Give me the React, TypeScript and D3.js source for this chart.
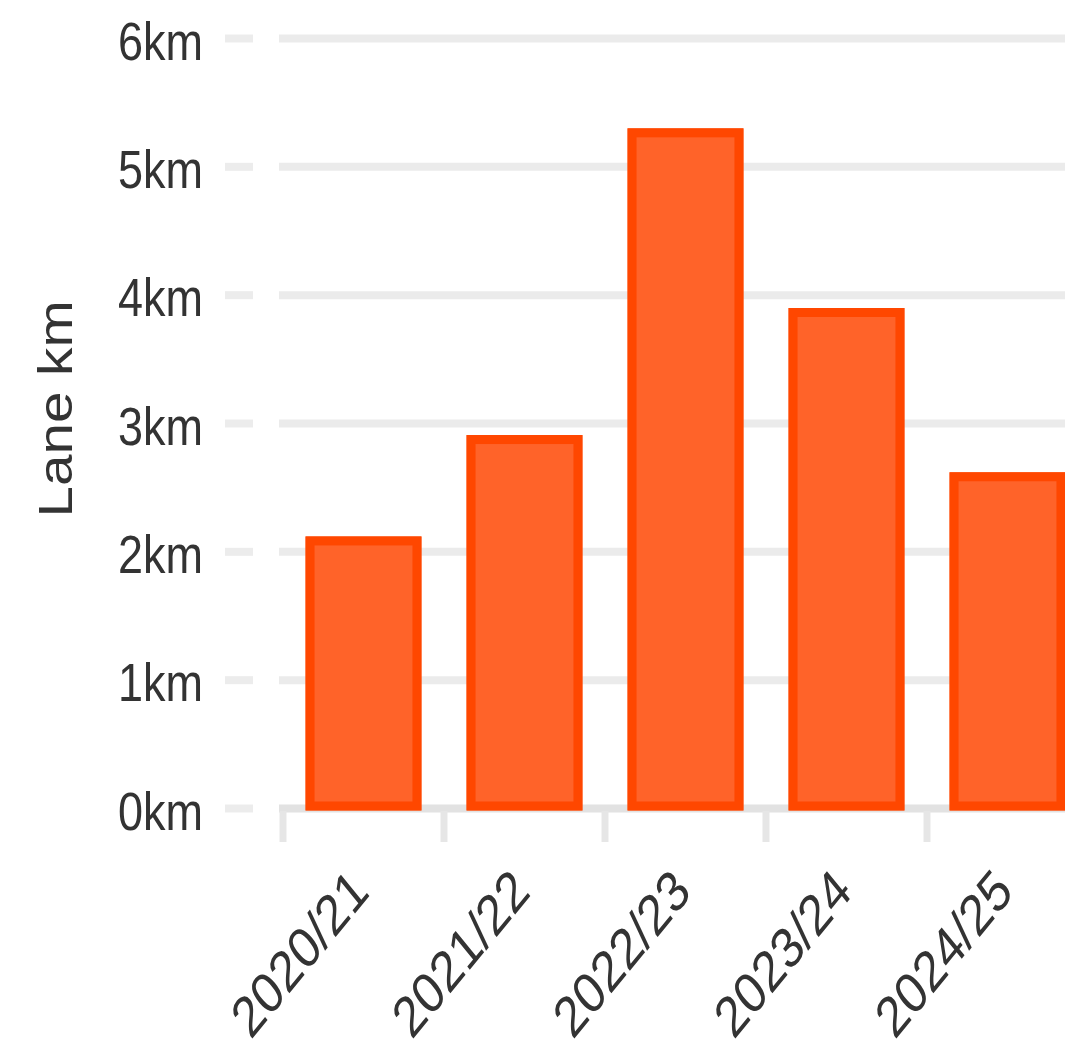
import React from 'react';
import * as d3 from 'd3';

const seasons: string[] = ['2020/21', '2021/22', '2022/23', '2023/24', '2024/25'];
const laneKm: number[] = [2.12, 2.91, 5.3, 3.9, 2.62];
const yTicks: number[] = [0, 1, 2, 3, 4, 5, 6];
const yTitle = 'Lane km';

const W = 1065;
const H = 1040;
const stretch = 1.18; // the picture is taller than it is wide
const font = '"Liberation Sans", Arial, sans-serif';

const App: React.FC = () => {
  const x = d3.scaleBand<string>()
    .domain(seasons)
    .range([283, 1088])
    .paddingInner(0.28)
    .paddingOuter(0.14);

  const y = d3.scaleLinear()
    .domain([0, 6])
    .range([808.5, 38.5]);

  const step = x.step();
  const bw = x.bandwidth();
  const border = 9;
  const boundaries = seasons.map(s => (x(s) as number) - step * 0.14);

  return (
    <svg width={W} height={H} style={{ position: 'absolute', left: 0, top: 0 }}>
      <rect width={W} height={H} fill="#fff" />

      {/* y grid + tick marks */}
      {yTicks.map(t => (
        <g key={t}>
          <line x1={225} x2={253} y1={y(t)} y2={y(t)} stroke="#ececec" strokeWidth={8} />
          <line x1={279} x2={W} y1={y(t)} y2={y(t)} stroke={t === 0 ? '#e2e2e2' : '#ebebeb'} strokeWidth={8} />
          <text
            transform={`translate(203, ${y(t) + 21}) scale(1, ${stretch})`}
            textAnchor="end"
            fontFamily={font}
            fontSize={45}
            fill="#333"
          >
            {`${t}km`}
          </text>
        </g>
      ))}

      {/* x tick marks */}
      {boundaries.map((bx, i) => (
        <line key={i} x1={bx} x2={bx} y1={811} y2={842} stroke="#e6e6e6" strokeWidth={7} />
      ))}

      {/* bars */}
      {seasons.map((s, i) => {
        const x0 = x(s) as number;
        const top = y(laneKm[i]);
        const bottom = y(0) + 2;
        return (
          <g key={s}>
            <rect x={x0} y={top} width={bw} height={bottom - top} fill="#ff6329" />
            <rect
              x={x0 + border / 2}
              y={top + border / 2}
              width={bw - border}
              height={bottom - top - border}
              fill="none"
              stroke="#ff4700"
              strokeWidth={border}
            />
          </g>
        );
      })}

      {/* x labels */}
      {seasons.map(s => (
        <text
          key={s}
          transform={`translate(${(x(s) as number) + bw / 2 - 4}, 880) scale(1, 1.22) rotate(-45)`}
          textAnchor="end"
          dominantBaseline="central"
          fontFamily={font}
          fontSize={47}
          fill="#333"
        >
          {s}
        </text>
      ))}

      {/* y axis title */}
      <text
        transform={`translate(72, 409) scale(1, ${stretch}) rotate(-90)`}
        textAnchor="middle"
        fontFamily={font}
        fontSize={48}
        fill="#333"
      >
        {yTitle}
      </text>
    </svg>
  );
};

export default App;
